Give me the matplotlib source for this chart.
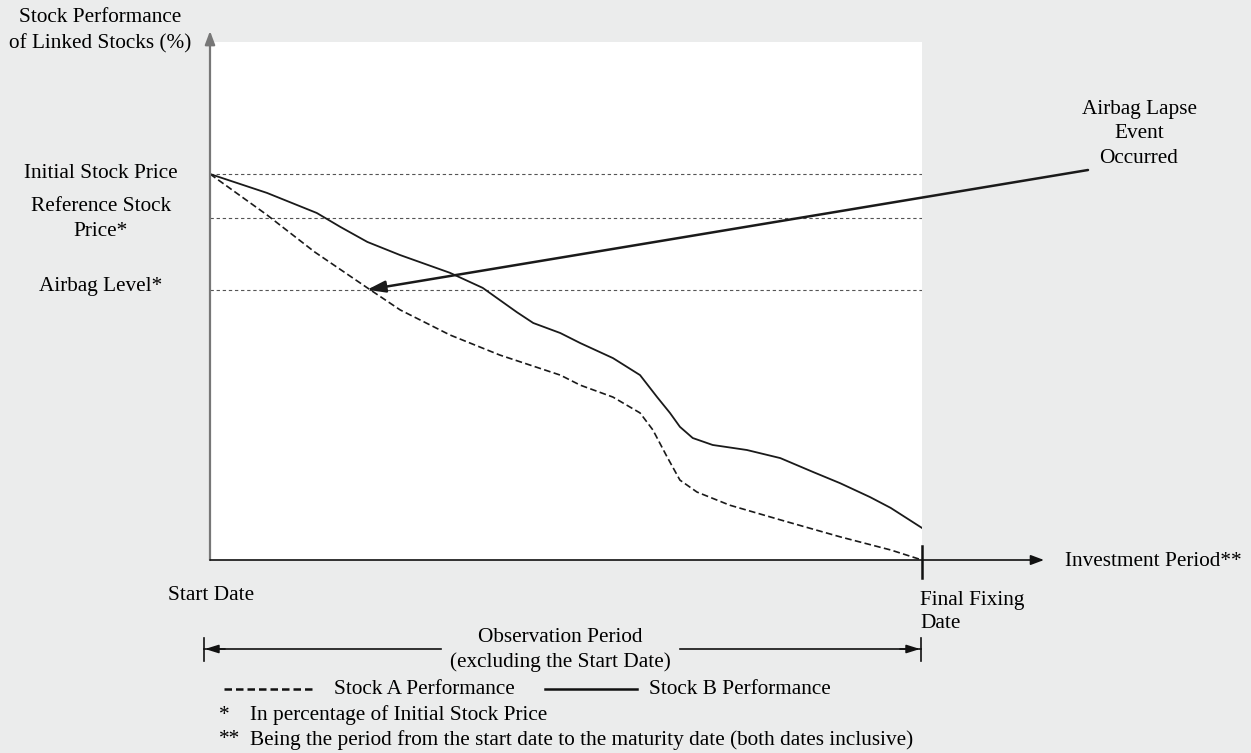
import matplotlib.pyplot as plt

# Datos (x: periodo 0-100, y: % del precio inicial)
stock_a_x = [0, 8.0, 14.7, 22.1, 26.7, 33.7, 40.7, 49.2, 52.0, 56.6, 60.4, 62.2, 64.2, 66.0, 68.4, 73.0, 80.1, 88.5, 95.6, 100]
stock_a_y = [100, 89.4, 79.8, 70.5, 64.8, 58.3, 53.1, 47.9, 45.3, 42.2, 38.1, 33.7, 26.7, 20.7, 17.6, 14.2, 10.4, 6.0, 2.6, 0]
stock_b_x = [0, 8.0, 15.0, 18.3, 22.1, 26.7, 33.7, 38.3, 43.1, 45.4, 49.2, 52.0, 56.6, 60.4, 62.8, 64.6, 66.0, 67.8,
             70.6, 75.4, 80.1, 84.7, 88.5, 92.7, 95.6, 100]
stock_b_y = [100, 95.1, 89.9, 86.3, 82.4, 79.0, 74.4, 70.5, 64.2, 61.4, 58.8, 56.2, 52.3, 47.9, 42.2, 38.1, 34.5, 31.6,
             29.8, 28.5, 26.4, 22.8, 19.9, 16.3, 13.5, 8.3]

level_values = [100, 88.5, 70]
level_labels = ['Initial Stock Price', 'Reference Stock\nPrice*', 'Airbag Level*']
lapse_point = (22.05, 70)

W, H = 1251, 753
bg = '#ebecec'
plt.rcParams['font.family'] = ['Liberation Serif', 'DejaVu Serif']
fs = 15.3
ink = '#1a1a1a'


def fx(px):
    return px / W


def fy(py):
    return 1 - py / H


fig = plt.figure(figsize=(W / 100, H / 100), dpi=100, facecolor=bg)
ax = fig.add_axes([fx(210), fy(560), fx(922) - fx(210), fy(42) - fy(560)])
ax.set_facecolor('white')
ax.set_xlim(0, 100)
ax.set_ylim(0, (560 - 42) / 3.86)
for s in ax.spines.values():
    s.set_visible(False)
ax.set_xticks([])
ax.set_yticks([])

# lineas de nivel
for v in level_values:
    ax.plot([0, 100], [v, v], color='#555555', lw=0.8, dashes=(3, 2.5))

# curvas
ax.plot(stock_a_x, stock_a_y, color=ink, lw=1.2, dashes=(4, 2), solid_joinstyle='round')
ax.plot(stock_b_x, stock_b_y, color=ink, lw=1.3, solid_joinstyle='round')

# ejes con flechas
ax.annotate('', xy=(0, (560 - 31) / 3.86), xytext=(0, 0), annotation_clip=False,
            arrowprops=dict(arrowstyle='-|>,head_length=0.8,head_width=0.3', color='#777777', lw=1.6,
                            shrinkA=0, shrinkB=0))
ax.annotate('', xy=((1044 - 210) / 7.12, 0), xytext=(0, 0), annotation_clip=False,
            arrowprops=dict(arrowstyle='-|>,head_length=0.8,head_width=0.3', color='#111111', lw=1.2,
                            shrinkA=0, shrinkB=0))
ax.plot([100, 100], [(560 - 578) / 3.86, (560 - 546) / 3.86], color='#111111', lw=1.8, clip_on=False)

# flecha del evento
ax.annotate('', xy=lapse_point, xytext=((1088 - 210) / 7.12, (560 - 170) / 3.86), annotation_clip=False,
            arrowprops=dict(arrowstyle='-|>,head_length=1.1,head_width=0.35', color=ink, lw=1.8,
                            shrinkA=0, shrinkB=0))

# textos
fig.text(fx(100), fy(31), 'Stock Performance\nof Linked Stocks (%)', ha='center', va='center', fontsize=fs, linespacing=1.48)
label_y = [173, 219, 287]
for lab, py in zip(level_labels, label_y):
    fig.text(fx(101), fy(py), lab, ha='center', va='center', fontsize=fs, linespacing=1.48)
fig.text(fx(1139), fy(134), 'Airbag Lapse\nEvent\nOccurred', ha='center', va='center', fontsize=fs, linespacing=1.42)
fig.text(fx(1065), fy(562), 'Investment Period**', ha='left', va='center', fontsize=fs)
fig.text(fx(168), fy(595), 'Start Date', ha='left', va='center', fontsize=fs)
fig.text(fx(920), fy(612), 'Final Fixing\nDate', ha='left', va='center', fontsize=fs, linespacing=1.3)
fig.text(fx(560), fy(650), 'Observation Period\n(excluding the Start Date)', ha='center', va='center', fontsize=fs, linespacing=1.4)

# periodo de observacion
fig.add_artist(plt.Line2D([fx(204), fx(204)], [fy(638), fy(661)], color='#111111', lw=1.2))
fig.add_artist(plt.Line2D([fx(921), fx(921)], [fy(638), fy(661)], color='#111111', lw=1.2))
fig.add_artist(plt.Line2D([fx(204), fx(441)], [fy(649), fy(649)], color='#111111', lw=1.2))
fig.add_artist(plt.Line2D([fx(680), fx(921)], [fy(649), fy(649)], color='#111111', lw=1.2))
ax.annotate('', xy=(fx(205), fy(649)), xytext=(fx(225), fy(649)), xycoords='figure fraction',
            textcoords='figure fraction', arrowprops=dict(arrowstyle='-|>,head_length=0.8,head_width=0.25', color='#111111', lw=1.2, shrinkA=0, shrinkB=0))
ax.annotate('', xy=(fx(920), fy(649)), xytext=(fx(900), fy(649)), xycoords='figure fraction',
            textcoords='figure fraction', arrowprops=dict(arrowstyle='-|>,head_length=0.8,head_width=0.25', color='#111111', lw=1.2, shrinkA=0, shrinkB=0))

# leyenda
fig.add_artist(plt.Line2D([fx(224), fx(313)], [fy(689), fy(689)], color='#111111', lw=1.8, dashes=(3, 1.6)))
fig.text(fx(334), fy(689), 'Stock A Performance', ha='left', va='center', fontsize=fs)
fig.add_artist(plt.Line2D([fx(545), fx(637)], [fy(689), fy(689)], color='#111111', lw=1.8))
fig.text(fx(649), fy(689), 'Stock B Performance', ha='left', va='center', fontsize=fs)

fig.text(fx(219), fy(715), '*', ha='left', va='center', fontsize=fs)
fig.text(fx(250), fy(715), 'In percentage of Initial Stock Price', ha='left', va='center', fontsize=fs)
fig.text(fx(219), fy(740), '**', ha='left', va='center', fontsize=fs)
fig.text(fx(250), fy(740), 'Being the period from the start date to the maturity date (both dates inclusive)', ha='left', va='center', fontsize=fs)

fig.savefig('out.png', dpi=100, facecolor=bg)
